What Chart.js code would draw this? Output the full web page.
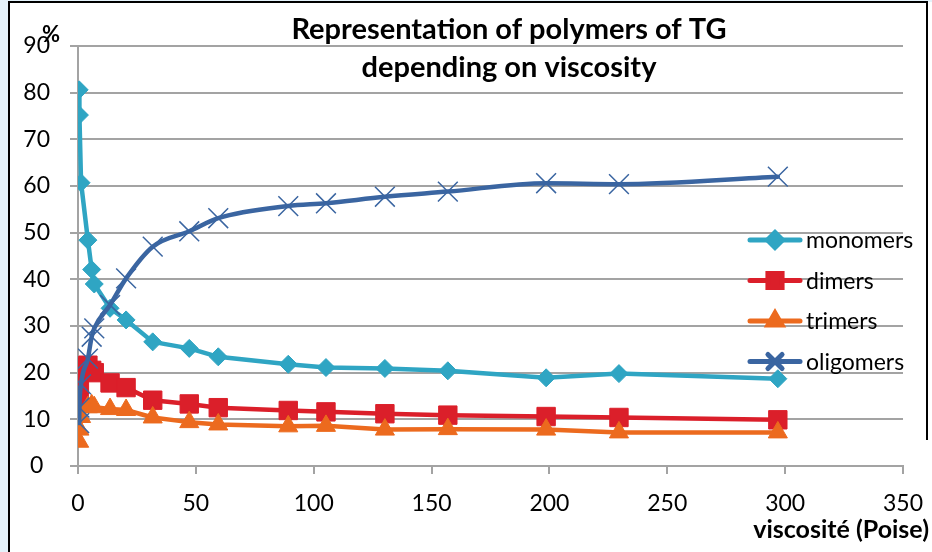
<!DOCTYPE html>
<html>
<head>
<meta charset="utf-8">
<script src="https://cdn.jsdelivr.net/npm/chart.js@4.4.1/dist/chart.umd.min.js"></script>
<style>
  html, body { margin: 0; padding: 0; background: #fff; }
  canvas { display: block; }
</style>
</head>
<body>
<canvas id="chart" width="932" height="552"></canvas>
<script>
// viscosity in Poise, shares are in %
const viscosity = [0.5, 0.6, 1.3, 4.2, 5.8, 6.9, 13.6, 20.4, 31.7, 47.2, 59.5, 89.2, 105.2, 130.2, 156.9, 198.6, 229.5, 296.9];
const monomers  = [80.6, 75.2, 60.7, 48.4, 42.1, 39.0, 33.8, 31.3, 26.6, 25.2, 23.4, 21.8, 21.1, 20.9, 20.4, 18.9, 19.8, 18.7];
const dimers    = [14.0, 17.5, 21.2, 21.6, 20.5, 20.0, 17.8, 16.8, 14.1, 13.3, 12.5, 11.9, 11.6, 11.2, 10.9, 10.6, 10.4, 9.9];
const trimers   = [5.2, 7.8, 10.5, 12.6, 13.0, 12.6, 12.2, 12.0, 10.4, 9.4, 8.9, 8.5, 8.6, 7.8, 7.9, 7.8, 7.2, 7.2];
const oligomers = [9.2, 12.5, 17.5, 23.0, 27.7, 29.5, 34.5, 40.2, 47.0, 50.3, 53.1, 55.7, 56.3, 57.7, 58.8, 60.6, 60.4, 62.0];

const titleLines = ['Representation of polymers of TG', 'depending on viscosity'];
const xTitle = 'viscosité (Poise)';
const yTitle = '%';

const FONT = 'Lato, "Open Sans", sans-serif';
const GRID = '#a3a3a3';

const pts = (ys) => viscosity.map((x, i) => ({ x, y: ys[i] }));

// legend look, smaller markers than on the plot
const legendMarks = [
  { pointStyle: 'rectRot', radius: 7.5 },
  { pointStyle: 'rect', radius: 10 },
  { pointStyle: 'triangle', radius: 8 },
  { pointStyle: 'crossRot', radius: 10 },
];

const series = [
  { label: 'monomers',  data: pts(monomers),  color: '#2fa5c3', style: 'rectRot',  r: 9,  order: 3 },
  { label: 'dimers',    data: pts(dimers),    color: '#db1f2a', style: 'rect',     r: 13, order: 2 },
  { label: 'trimers',   data: pts(trimers),   color: '#ec6a1e', style: 'triangle', r: 11, order: 1 },
  { label: 'oligomers', data: pts(oligomers), color: '#3a65a1', style: 'crossRot', r: 14, order: 0 },
];

const frame = {
  id: 'frame',
  beforeDraw(chart) {
    const { ctx, width, height } = chart;
    ctx.save();
    ctx.fillStyle = '#e4f2fa';
    ctx.fillRect(0, 0, width, height);
    ctx.fillStyle = '#fff';
    ctx.fillRect(9, 2, width - 9, height - 2);
    ctx.strokeStyle = '#000';
    ctx.lineWidth = 2;
    ctx.beginPath();
    ctx.moveTo(9, height);
    ctx.lineTo(9, 2);
    ctx.lineTo(927, 2);
    ctx.lineTo(927, 440);
    ctx.stroke();
    ctx.restore();
  },
};

const texts = {
  id: 'texts',
  afterDraw(chart) {
    const { ctx } = chart;
    ctx.save();
    ctx.fillStyle = '#000';
    ctx.textBaseline = 'middle';

    ctx.font = `bold 29px ${FONT}`;
    ctx.textAlign = 'center';
    ctx.fillText(titleLines[0], 509, 30);
    ctx.fillText(titleLines[1], 509, 68);

    ctx.font = `bold 22px ${FONT}`;
    ctx.fillText(yTitle, 51, 35);

    ctx.font = `bold 25px ${FONT}`;
    ctx.textAlign = 'right';
    ctx.fillText(xTitle, 929, 530);

    // legend inside the plot, right side
    ctx.font = `23px ${FONT}`;
    ctx.textAlign = 'left';
    chart.data.datasets.forEach((ds, i) => {
      const y = 240 + i * 40.5;
      ctx.strokeStyle = ds.borderColor;
      ctx.fillStyle = ds.borderColor;
      ctx.lineWidth = 5;
      ctx.lineCap = 'round';
      ctx.beginPath();
      ctx.moveTo(750, y);
      ctx.lineTo(800, y);
      ctx.stroke();
      Chart.helpers.drawPoint(ctx, { ...legendMarks[i], rotation: 0, borderWidth: ds.pointBorderWidth }, 775, y);
      ctx.fillStyle = '#000';
      ctx.fillText(ds.label, 806, y + 1);
    });
    ctx.restore();
  },
};

new Chart(document.getElementById('chart'), {
  type: 'line',
  data: {
    datasets: series.map(s => ({
      label: s.label,
      data: s.data,
      order: s.order,
      borderColor: s.color,
      backgroundColor: s.color,
      borderWidth: 4.5,
      borderJoinStyle: 'round',
      borderCapStyle: 'round',
      cubicInterpolationMode: s.label === 'oligomers' ? 'monotone' : 'default',
      pointStyle: s.style,
      pointRadius: s.r,
      pointBorderWidth: s.style === 'crossRot' ? 1.5 : 1,
      pointBackgroundColor: s.color,
      pointBorderColor: s.color,
      fill: false,
    })),
  },
  options: {
    responsive: false,
    animation: false,
    layout: { padding: { left: 10, top: 46, right: 29, bottom: 0 } },
    plugins: { legend: { display: false }, tooltip: { enabled: false }, title: { display: false } },
    scales: {
      x: {
        type: 'linear',
        min: 0,
        max: 350,
        ticks: { stepSize: 50, color: '#000', font: { family: FONT, size: 23 }, padding: 16, maxRotation: 0 },
        grid: { drawOnChartArea: false, drawTicks: true, tickLength: 8, color: GRID, lineWidth: 2 },
        border: { display: true, color: GRID, width: 2 },
        afterFit: (s) => { s.height = 86; s.paddingLeft = 0; s.paddingRight = 0; },
      },
      y: {
        min: 0,
        max: 90,
        ticks: { stepSize: 10, color: '#000', font: { family: FONT, size: 23 }, padding: 20, crossAlign: 'center' },
        grid: { color: GRID, lineWidth: 2, tickLength: 8 },
        border: { display: true, color: GRID, width: 2 },
        afterFit: (s) => { s.width = 68; s.paddingTop = 0; s.paddingBottom = 0; },
      },
    },
  },
  plugins: [frame, texts],
});
</script>
</body>
</html>
